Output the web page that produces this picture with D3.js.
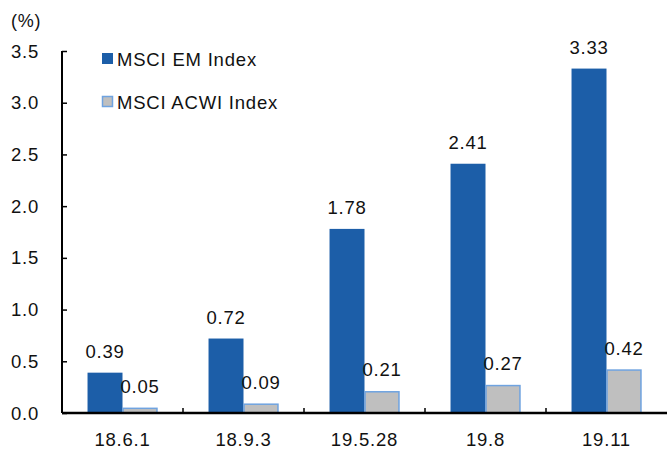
<!DOCTYPE html>
<html>
<head>
<meta charset="UTF-8">
<title>MSCI EM vs ACWI</title>
<script src="https://d3js.org/d3.v7.min.js"></script>
<style>
  body { margin: 0; background: #fff; }
  svg text { font-family: "Liberation Sans", Arial, sans-serif; fill: #111; letter-spacing: 0.8px; }
</style>
</head>
<body>
<script>
// data
const categories = ["18.6.1", "18.9.3", "19.5.28", "19.8", "19.11"];
const emValues = [0.39, 0.72, 1.78, 2.41, 3.33];
const acwiValues = [0.05, 0.09, 0.21, 0.27, 0.42];
const seriesNames = ["MSCI EM Index", "MSCI ACWI Index"];
const yTicks = [0, 0.5, 1.0, 1.5, 2.0, 2.5, 3.0, 3.5];

const W = 667, H = 450;
const margin = { top: 51, right: 0, bottom: 37, left: 62 };
const width = W - margin.left - margin.right;
const height = H - margin.top - margin.bottom;

const svg = d3.select("body").append("svg")
    .attr("width", W).attr("height", H);
const g = svg.append("g")
    .attr("transform", `translate(${margin.left},${margin.top})`);

const x = d3.scaleBand().domain(categories).range([0, 605]).paddingInner(0).paddingOuter(0);
const xSub = d3.scaleBand().domain([0, 1]).range([0, x.bandwidth()]).paddingOuter(0.73).paddingInner(0);
const y = d3.scaleLinear().domain([0, 3.5]).range([height, 0]);

// bars
const groups = g.selectAll(".grp").data(categories).enter().append("g")
    .attr("transform", d => `translate(${x(d)},0)`);

groups.append("rect")
    .attr("x", xSub(0))
    .attr("width", xSub.bandwidth())
    .attr("y", (d, i) => y(emValues[i]))
    .attr("height", (d, i) => y(0) - y(emValues[i]))
    .attr("fill", "#1c5ea8");

groups.append("rect")
    .attr("x", xSub(1) + 0.5)
    .attr("width", xSub.bandwidth() - 1)
    .attr("y", (d, i) => y(acwiValues[i]) + 0.5)
    .attr("height", (d, i) => y(0) - y(acwiValues[i]) - 0.5)
    .attr("fill", "#bfbfbf")
    .attr("stroke", "#6fa3e0")
    .attr("stroke-width", 1.5);

// value labels
groups.append("text")
    .attr("x", xSub(0) + xSub.bandwidth() / 2)
    .attr("y", (d, i) => y(emValues[i]) - 15)
    .attr("text-anchor", "middle")
    .attr("font-size", 18.5)
    .text((d, i) => emValues[i].toFixed(2));

groups.append("text")
    .attr("x", xSub(1) + xSub.bandwidth() / 2)
    .attr("y", (d, i) => y(acwiValues[i]) - 15)
    .attr("text-anchor", "middle")
    .attr("font-size", 18.5)
    .text((d, i) => acwiValues[i].toFixed(2));

// y axis
const yAxis = g.append("g")
    .call(d3.axisRight(y).tickValues(yTicks).tickSize(5).tickFormat(""));
yAxis.select(".domain").attr("stroke", "#000").attr("stroke-width", 2).attr("d", `M0,0V${height}`);
yAxis.selectAll(".tick line").attr("stroke", "#000").attr("stroke-width", 1.5);

g.selectAll(".ylab").data(yTicks).enter().append("text")
    .attr("x", -23)
    .attr("y", d => y(d) + 6.5)
    .attr("text-anchor", "end")
    .attr("font-size", 18.5)
    .text(d => d.toFixed(1));

// x axis
const xAxis = g.append("g")
    .attr("transform", `translate(0,${height})`)
    .call(d3.axisTop(x).tickSize(0).tickFormat(""));
xAxis.select(".domain").attr("stroke", "#000").attr("stroke-width", 2.5).attr("d", `M0,0H${width}`);
xAxis.selectAll(".tick").remove();

// category separator ticks (pointing up, between bands)
g.selectAll(".sep").data(categories.slice(1)).enter().append("line")
    .attr("x1", d => x(d)).attr("x2", d => x(d))
    .attr("y1", height).attr("y2", height - 5)
    .attr("stroke", "#000").attr("stroke-width", 1.5);

g.selectAll(".xlab").data(categories).enter().append("text")
    .attr("x", d => x(d) + x.bandwidth() / 2)
    .attr("y", height + 33)
    .attr("text-anchor", "middle")
    .attr("font-size", 18.5)
    .text(d => d);

// unit
svg.append("text")
    .attr("x", 11).attr("y", 27)
    .attr("font-size", 18)
    .text("(%)");

// legend
const legend = svg.append("g").attr("transform", "translate(102,53)");
legend.append("rect").attr("x", 0).attr("y", 0).attr("width", 11).attr("height", 11).attr("fill", "#1c5ea8");
legend.append("rect").attr("x", 0.5).attr("y", 43.5).attr("width", 10).attr("height", 10)
    .attr("fill", "#bfbfbf").attr("stroke", "#6fa3e0").attr("stroke-width", 1.5);
legend.append("text").attr("x", 15).attr("y", 13).attr("font-size", 18.5).text(seriesNames[0]);
legend.append("text").attr("x", 15).attr("y", 56).attr("font-size", 18.5).text(seriesNames[1]);
</script>
</body>
</html>
